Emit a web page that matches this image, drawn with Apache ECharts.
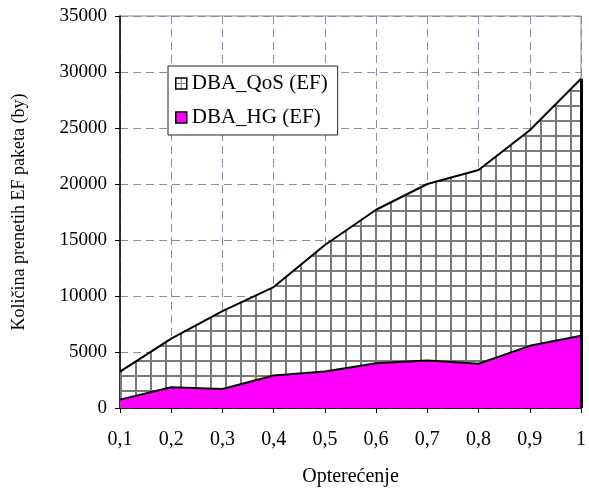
<!DOCTYPE html>
<html style="height: 100%">
<head>
    <meta charset="utf-8">
    <script src="https://cdn.jsdelivr.net/npm/echarts@6/dist/echarts.min.js"></script>
</head>
<body style="height: 100%; margin: 0; background: #fff">
<div id="container" style="width: 589px; height: 492px"></div>
<script>
    var categories = ['0,1', '0,2', '0,3', '0,4', '0,5', '0,6', '0,7', '0,8', '0,9', '1'];
    var qosValues = [3250, 6200, 8650, 10800, 14550, 17700, 20000, 21250, 24800, 29400];
    var hgValues = [750, 1850, 1700, 2900, 3250, 4000, 4250, 3950, 5550, 6450];
    var seriesNames = ['DBA_QoS (EF)', 'DBA_HG (EF)'];

    // crosshatch fill
    function makeHatch(size, lw, off) {
        var c = document.createElement('canvas');
        c.width = size;
        c.height = size;
        var ctx = c.getContext('2d');
        ctx.fillStyle = '#ffffff';
        ctx.fillRect(0, 0, size, size);
        ctx.fillStyle = '#7a7a7a';
        ctx.fillRect(off, 0, lw, size);
        ctx.fillRect(0, off, size, lw);
        return {image: c, repeat: 'repeat'};
    }

    var font = '"Liberation Serif", "DejaVu Serif", serif';
    var dom = document.getElementById('container');
    var myChart = echarts.init(dom);

    option = {
        animation: false,
        textStyle: {fontFamily: font},
        grid: {left: 120, right: 2, top: 16, bottom: 80, show: true, borderColor: '#8a8a8a', borderWidth: 1},
        legend: {
            orient: 'vertical',
            left: 168,
            top: 66,
            padding: [7, 10, 7, 7],
            itemGap: 13,
            itemWidth: 11,
            itemHeight: 11,
            backgroundColor: '#fff',
            borderColor: '#222',
            borderWidth: 1,
            textStyle: {fontFamily: font, fontSize: 21, color: '#000'},
            data: [
                {name: seriesNames[0], icon: 'rect', itemStyle: {color: makeHatch(11, 1, 5), borderColor: '#000', borderWidth: 1.5}},
                {name: seriesNames[1], icon: 'rect', itemStyle: {color: '#ff00ff', borderColor: '#000', borderWidth: 1.5}}
            ]
        },
        xAxis: {
            type: 'category',
            boundaryGap: false,
            data: categories,
            name: 'Opterećenje',
            nameLocation: 'middle',
            nameGap: 59,
            nameTextStyle: {fontFamily: font, fontSize: 20, color: '#000'},
            axisLine: {lineStyle: {color: '#000', width: 1.5}},
            axisTick: {inside: false, length: 5, lineStyle: {color: '#000'}},
            axisLabel: {fontFamily: font, fontSize: 20, color: '#000', margin: 22},
            splitLine: {show: true, lineStyle: {color: '#8a8ab0', type: [8, 5], width: 1}}
        },
        yAxis: {
            type: 'value',
            min: 0,
            max: 35000,
            interval: 5000,
            name: 'Količina prenetih EF paketa (by)',
            nameLocation: 'middle',
            nameGap: 92,
            nameTextStyle: {fontFamily: font, fontSize: 18, color: '#000'},
            axisLine: {show: true, lineStyle: {color: '#000', width: 1.5}},
            axisTick: {show: true, length: 5, lineStyle: {color: '#000'}},
            axisLabel: {
                fontFamily: font, fontSize: 19, color: '#000', margin: 13,
                formatter: function (v) { return String(v); }
            },
            splitLine: {show: true, lineStyle: {color: '#8a8ab0', type: [8, 5], width: 1}}
        },
        series: [
            {
                name: seriesNames[0],
                type: 'line',
                data: qosValues,
                symbol: 'none',
                lineStyle: {color: '#000', width: 2},
                itemStyle: {color: '#000'},
                areaStyle: {color: makeHatch(15, 2, 0), opacity: 1},
                markLine: {
                    silent: true,
                    symbol: 'none',
                    label: {show: false},
                    lineStyle: {color: '#000', width: 3, type: 'solid'},
                    data: [[{coord: ['1', 0]}, {coord: ['1', qosValues[9]]}]]
                },
                z: 2
            },
            {
                name: seriesNames[1],
                type: 'line',
                data: hgValues,
                symbol: 'none',
                lineStyle: {color: '#000', width: 2},
                itemStyle: {color: '#ff00ff'},
                areaStyle: {color: '#ff00ff', opacity: 1},
                z: 3
            }
        ]
    };
    if (option && typeof option === "object") {
        myChart.setOption(option, true);
    }
</script>
</body>
</html>
